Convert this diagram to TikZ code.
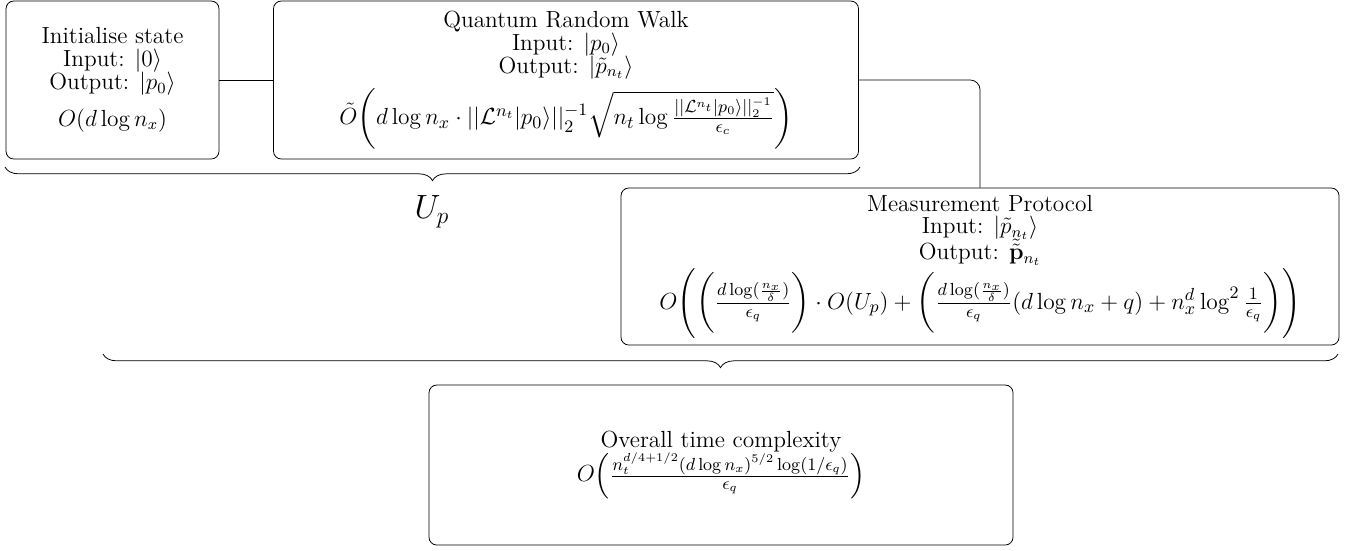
\documentclass[tikz,border=0pt]{standalone}
\usepackage{amsmath,amssymb}
\usetikzlibrary{decorations.pathreplacing}
\newlength\pxu \setlength\pxu{0.5141pt}
\newcommand\boxfont{\fontsize{12}{11.8}\selectfont\lineskiplimit=-3pt\relax\lineskip=0pt\relax}
\newcommand\mfont[1]{\fontsize{#1}{11.8}\selectfont}
% delimiter of a chosen size
\newcommand\dlm[2]{\hbox{$\left#2\vcenter to #1{}\right.\nulldelimiterspace=0pt$}}
\newcommand\lp[1]{\mathopen{\dlm{#1}(}}
\newcommand\rp[1]{\mathclose{\dlm{#1})}}
\newcommand\lpo{\mathopen{\hbox{\fontsize{12}{12}\selectfont\dlm{34pt}(}}}
\newcommand\rpo{\mathclose{\hbox{\fontsize{12}{12}\selectfont\dlm{34pt})}}}
\begin{document}
\begin{tikzpicture}[x=0.5141pt,y=-0.5141pt,
  box/.style={draw, rounded corners=4pt, align=center, inner sep=2pt, font=\boxfont},
  mybrace/.style={decorate, decoration={brace,mirror,amplitude=7pt}},
  link/.style={draw}]
\useasboundingbox (0,0) rectangle (1356,550);
\node[box, minimum width=213\pxu, minimum height=158\pxu] (init) at (112.5,80)
  {Initialise state\\ Input: $|0\rangle$\\ Output: $|p_0\rangle$\\[7pt] $O(d\log n_x)$};
\node[box, minimum width=585\pxu, minimum height=158\pxu] (qrw) at (566,80)
  {Quantum Random Walk\\ Input: $|p_0\rangle$\\ Output: $|\tilde{p}_{n_t}\rangle$\\[5pt]
   \mfont{13}$\tilde{O}\lp{30pt}d\log n_x\cdot ||\mathcal{L}^{n_t}|p_0\rangle||_2^{-1}\sqrt{n_t\log\frac{||\mathcal{L}^{n_t}|p_0\rangle||_2^{-1}}{\epsilon_c}}\rp{30pt}$};
\node[box, minimum width=718\pxu, minimum height=157\pxu] (meas) at (980,266.5)
  {Measurement Protocol\\ Input: $|\tilde{p}_{n_t}\rangle$\\[1.5pt] Output: $\tilde{\tilde{\mathbf{p}}}_{n_t}$\\[1.5pt]
   \mfont{13}$O\lpo\lp{30pt}\frac{d\log(\frac{n_x}{\delta})}{\epsilon_q}\rp{30pt}\cdot O(U_p)+\lp{30pt}\frac{d\log(\frac{n_x}{\delta})}{\epsilon_q}(d\log n_x+q)+n_x^d\log^2\frac{1}{\epsilon_q}\rp{30pt}\rpo$};
\node[box, minimum width=584\pxu, minimum height=160\pxu] (overall) at (721,465)
  {Overall time complexity\\
   \mfont{13}$O\lp{22pt}\frac{n_t^{d/4+1/2}(d\log n_x)^{5/2}\log(1/\epsilon_q)}{\epsilon_q}\rp{22pt}$};
\draw[link] (init) -- (qrw);
\draw[link, rounded corners=5pt] (qrw.east) -| (meas.north);
\coordinate (b1s) at (5,167);
\coordinate (b1e) at (860,167);
\coordinate (b2s) at (103,354);
\coordinate (b2e) at (1338,354);
\draw[mybrace] (b1s) -- (b1e);
\draw[mybrace] (b2s) -- (b2e);
\node[font=\fontsize{17}{20}\selectfont] (up) at (432,212) {$U_p$};
\end{tikzpicture}
\end{document}
